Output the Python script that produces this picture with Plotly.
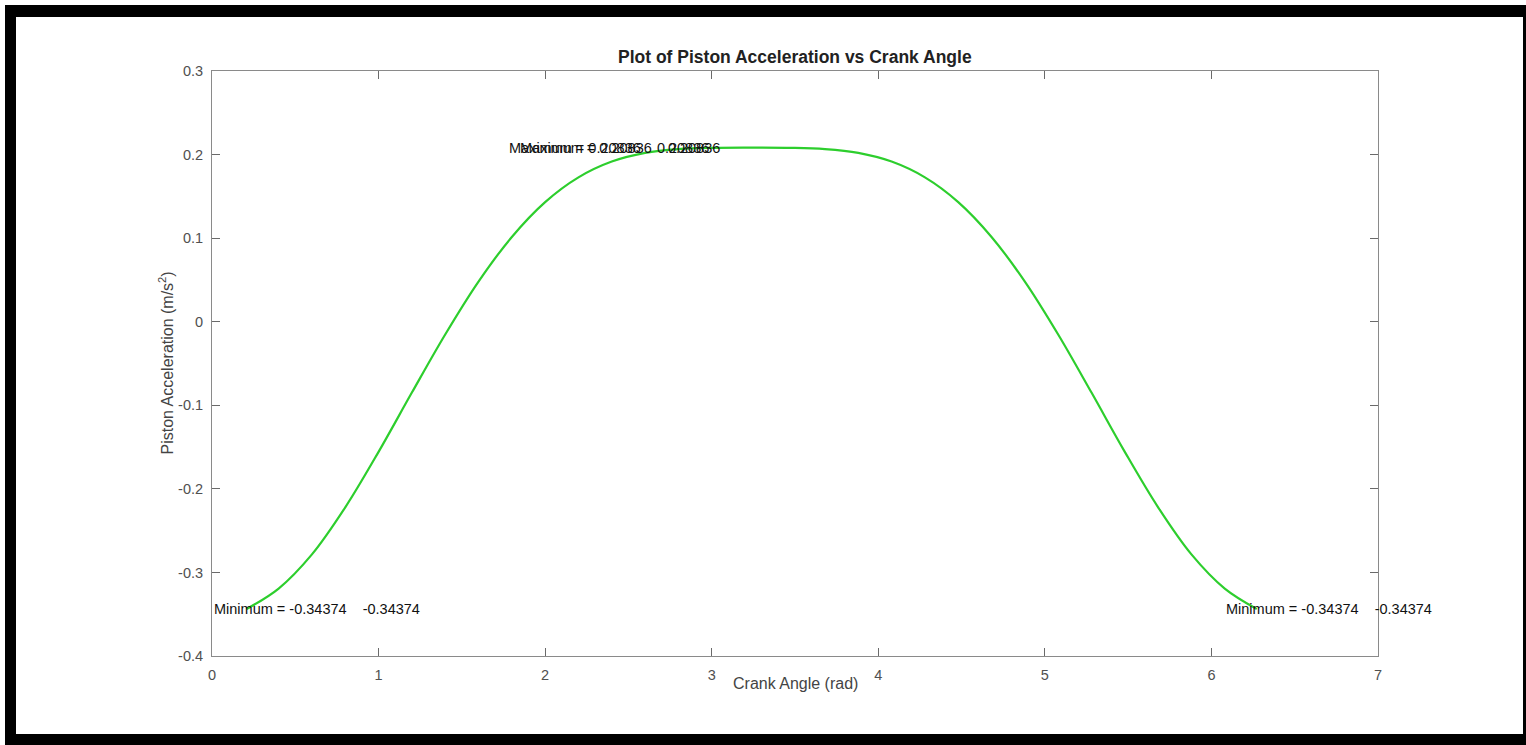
import plotly.graph_objects as go

# ---- data ----
crank_angle = [0.208, 0.4, 0.6, 0.8, 1.0, 1.2, 1.4, 1.6, 1.8, 2.0,
               2.2, 2.4, 2.6, 2.8, 3.0, 3.24, 3.48, 3.68, 3.88, 4.08,
               4.28, 4.48, 4.68, 4.88, 5.08, 5.28, 5.48, 5.68, 5.88, 6.08,
               6.272]
piston_accel = [-0.3437, -0.3193, -0.2784, -0.2221, -0.1557, -0.0848, -0.0153, 0.0480, 0.1014, 0.1431,
                0.1727, 0.1916, 0.2020, 0.2066, 0.2081, 0.20836, 0.2081, 0.2066, 0.2020, 0.1916,
                0.1727, 0.1431, 0.1014, 0.0480, -0.0153, -0.0848, -0.1557, -0.2221, -0.2784, -0.3193,
                -0.3437]

x_tick_vals = [0, 1, 2, 3, 4, 5, 6, 7]
x_tick_text = ["0", "1", "2", "3", "4", "5", "6", "7"]
y_tick_vals = [-0.4, -0.3, -0.2, -0.1, 0, 0.1, 0.2, 0.3]
y_tick_text = ["-0.4", "-0.3", "-0.2", "-0.1", "0", "0.1", "0.2", "0.3"]

min_label_x = [0.0, 6.075]
min_value = -0.34374
max_label_x = [1.77, 1.84]
max_value = 0.20836

title_text = "Plot of Piston Acceleration vs Crank Angle"
x_title = "Crank Angle (rad)"
y_title = "Piston Acceleration (m/s<sup>2</sup>)"

# ---- layout geometry (pixels) ----
W, H = 1526, 745
L, R, T, B = 212, 1378, 71, 656
PW, PH = R - L, B - T


def px(xp):
    return (xp - L) / PW


def py(yp):
    return (B - yp) / PH


FONT = "Liberation Sans, Arial, Helvetica, sans-serif"
NBSP = "\u00a0"

fig = go.Figure()
fig.add_trace(go.Scatter(
    x=crank_angle, y=piston_accel, mode="lines",
    line=dict(color="rgb(45,206,45)", width=2.2, shape="spline", smoothing=1.0),
    hoverinfo="x+y", showlegend=False,
))

annotations = []
for xv in min_label_x:
    annotations.append(dict(
        x=xv, y=min_value, xref="x", yref="y",
        text=f"Minimum = {min_value:.5f}" + NBSP * 4 + f"{min_value:.5f}",
        showarrow=False, xanchor="left", yanchor="middle",
        font=dict(family=FONT, size=14.5, color="#111111"),
    ))
for xv in max_label_x:
    annotations.append(dict(
        x=xv, y=max_value, xref="x", yref="y",
        text=f"Maximum = {max_value:.5f}" + NBSP * 4 + f"{max_value:.5f}",
        showarrow=False, xanchor="left", yanchor="middle",
        font=dict(family=FONT, size=14.5, color="#111111"),
    ))

# title and axis titles
annotations.append(dict(
    x=0.5, y=py(57), xref="paper", yref="paper", text=f"<b>{title_text}</b>",
    showarrow=False, xanchor="center", yanchor="middle",
    font=dict(family=FONT, size=17.5, color="#222222"),
))
annotations.append(dict(
    x=0.5, y=py(683), xref="paper", yref="paper", text=x_title,
    showarrow=False, xanchor="center", yanchor="middle",
    font=dict(family=FONT, size=16, color="#444444"),
))
annotations.append(dict(
    x=px(166), y=0.5, xref="paper", yref="paper", text=y_title, textangle=-90,
    showarrow=False, xanchor="center", yanchor="middle",
    font=dict(family=FONT, size=16, color="#444444"),
))

shapes = [
    dict(type="rect", xref="paper", yref="paper", layer="below",
         x0=px(5), x1=px(1540), y0=py(760), y1=py(5),
         fillcolor="black", line=dict(width=0)),
    dict(type="rect", xref="paper", yref="paper", layer="below",
         x0=px(16), x1=px(1523), y0=py(734), y1=py(17),
         fillcolor="white", line=dict(width=0)),
]

axis_common = dict(
    showgrid=False, zeroline=False, showline=True, linecolor="#8a8a8a", linewidth=1,
    mirror="ticks", ticks="inside", ticklen=8, tickcolor="#6a6a6a", tickwidth=1,
    tickfont=dict(family=FONT, size=14.5, color="#505050"),
)

fig.update_layout(
    width=W, height=H,
    margin=dict(l=L, r=W - R, t=T, b=H - B, pad=0),
    paper_bgcolor="white", plot_bgcolor="white",
    xaxis=dict(range=[0, 7], tickmode="array", tickvals=x_tick_vals, ticktext=x_tick_text,
               ticklabelstandoff=6, **axis_common),
    yaxis=dict(range=[-0.4, 0.3], tickmode="array", tickvals=y_tick_vals, ticktext=y_tick_text,
               ticklabelstandoff=5, **axis_common),
    annotations=annotations,
    shapes=shapes,
    showlegend=False,
)

fig.write_html(
    "out.html",
    config={"displayModeBar": False},
    post_script="document.body.style.margin='0';document.body.style.overflow='hidden';",
)
